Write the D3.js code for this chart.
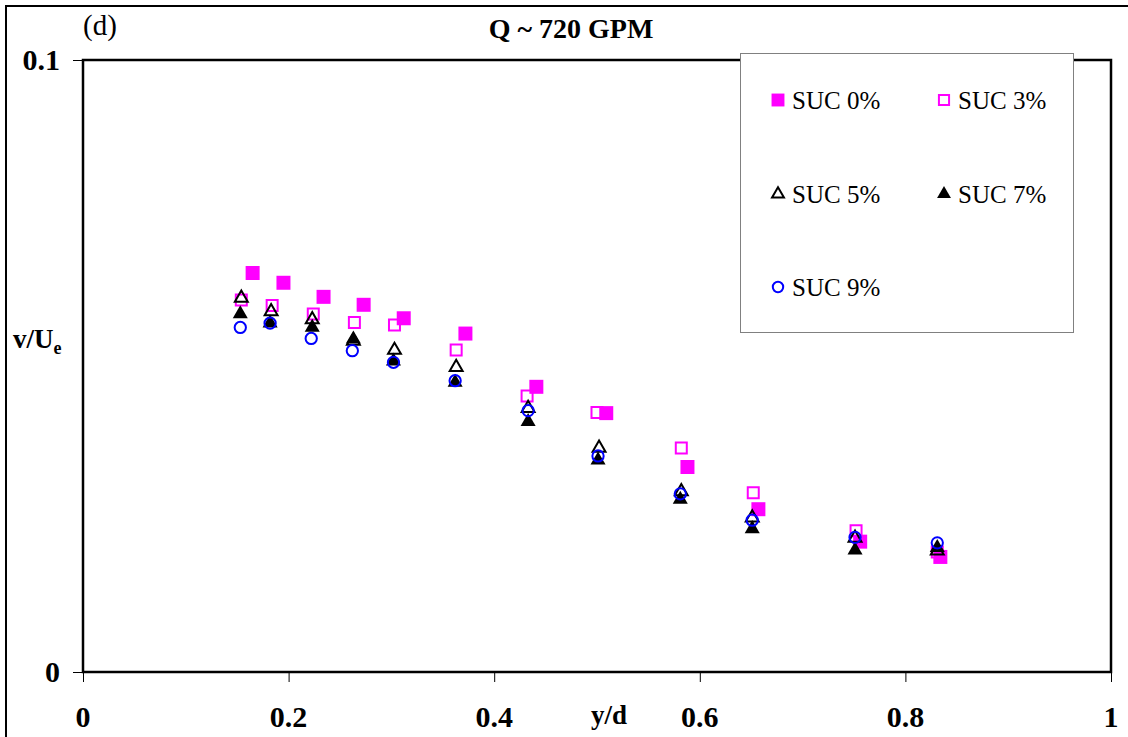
<!DOCTYPE html>
<html>
<head>
<meta charset="utf-8">
<script src="https://cdn.jsdelivr.net/npm/d3@7"></script>
<style>
  html, body { margin: 0; padding: 0; background: #fff; }
  svg { display: block; }
  text { font-family: "Liberation Serif", "Times New Roman", serif; }
</style>
</head>
<body>
<svg id="chart" width="1128" height="737"></svg>
<script>
// ---- data ----
const title = "Q ~ 720 GPM";
const panelLabel = "(d)";
const xTicks = [0, 0.2, 0.4, 0.6, 0.8, 1];
const xTickLabels = ["0", "0.2", "0.4", "0.6", "0.8", "1"];
const yTicks = [0, 0.1];
const yTickLabels = ["0", "0.1"];
const seriesNames = ["SUC 0%", "SUC 3%", "SUC 5%", "SUC 7%", "SUC 9%"];

const x0 = [0.165, 0.195, 0.234, 0.273, 0.312, 0.372, 0.441, 0.509, 0.588, 0.657, 0.756, 0.834];
const y0 = [0.0652, 0.0636, 0.0613, 0.0600, 0.0578, 0.0553, 0.0466, 0.0423, 0.0335, 0.0266, 0.0213, 0.0188];

const x3 = [0.154, 0.184, 0.224, 0.264, 0.303, 0.363, 0.432, 0.500, 0.582, 0.652, 0.752, 0.831];
const y3 = [0.0608, 0.0599, 0.0585, 0.0571, 0.0567, 0.0526, 0.0451, 0.0424, 0.0366, 0.0293, 0.0231, 0.0196];

const x5 = [0.154, 0.183, 0.223, 0.263, 0.303, 0.363, 0.433, 0.502, 0.582, 0.651, 0.751, 0.831];
const y5 = [0.0611, 0.0589, 0.0576, 0.0541, 0.0526, 0.0498, 0.0431, 0.0366, 0.0295, 0.0252, 0.0219, 0.0198];

const x7 = [0.153, 0.182, 0.223, 0.263, 0.302, 0.362, 0.433, 0.501, 0.581, 0.651, 0.751, 0.831];
const y7 = [0.0585, 0.0570, 0.0563, 0.0544, 0.0508, 0.0473, 0.0409, 0.0346, 0.0282, 0.0234, 0.0199, 0.0203];

const x9 = [0.153, 0.182, 0.222, 0.262, 0.302, 0.362, 0.433, 0.501, 0.581, 0.651, 0.751, 0.831];
const y9 = [0.0563, 0.0570, 0.0545, 0.0525, 0.0506, 0.0476, 0.0427, 0.0353, 0.0291, 0.0248, 0.0220, 0.0211];

// ---- layout ----
const svg = d3.select("#chart");
const pLeft = 83, pRight = 1111, pTop = 60, pBottom = 672;
const x = d3.scaleLinear().domain([0, 1]).range([pLeft, pRight]);
const y = d3.scaleLinear().domain([0, 0.1]).range([pBottom, pTop]);

const MAG = "#ff00ff", BLUE = "#0000ff", BLACK = "#000000";
const styles = [
  { type: d3.symbolSquare,   size: 196, fill: MAG,    stroke: "none", sw: 0 },
  { type: d3.symbolSquare,   size: 121, fill: "none", stroke: MAG,    sw: 2 },
  { type: d3.symbolTriangle, size: 72,  fill: "none", stroke: BLACK,  sw: 2 },
  { type: d3.symbolTriangle, size: 98,  fill: BLACK,  stroke: "none", sw: 0 },
  { type: d3.symbolCircle,   size: 100, fill: "none", stroke: BLUE,   sw: 2 }
];
const series = [
  { xs: x0, ys: y0 }, { xs: x3, ys: y3 }, { xs: x5, ys: y5 }, { xs: x7, ys: y7 }, { xs: x9, ys: y9 }
];

// outer chart frame (extends beyond the visible area on right/bottom)
svg.append("rect").attr("x", 6).attr("y", 6).attr("width", 1200).attr("height", 800)
  .attr("fill", "none").attr("stroke", "#000").attr("stroke-width", 2);

// plot area border
svg.append("rect").attr("x", pLeft).attr("y", pTop).attr("width", pRight - pLeft).attr("height", pBottom - pTop)
  .attr("fill", "none").attr("stroke", "#000").attr("stroke-width", 2.5);

// axes ticks via d3 axes
const xAxis = d3.axisBottom(x).tickValues(xTicks).tickSize(10).tickFormat("");
const yAxis = d3.axisLeft(y).tickValues(yTicks).tickSize(10).tickFormat("");
const gx = svg.append("g").attr("transform", `translate(0,${pBottom})`).call(xAxis);
const gy = svg.append("g").attr("transform", `translate(${pLeft},0)`).call(yAxis);
[gx, gy].forEach(g => { g.select(".domain").remove(); g.selectAll("line").attr("stroke", "#000").attr("stroke-width", 1); });

// tick labels
svg.append("g").selectAll("text").data(xTicks).join("text")
  .attr("x", d => x(d)).attr("y", 727).attr("text-anchor", "middle")
  .attr("font-size", 30).attr("font-weight", "bold").text((d, i) => xTickLabels[i]);
svg.append("g").selectAll("text").data(yTicks).join("text")
  .attr("x", 60).attr("y", d => y(d) + 10).attr("text-anchor", "end")
  .attr("font-size", 30).attr("font-weight", "bold").text((d, i) => yTickLabels[i]);

// axis titles
svg.append("text").attr("x", 609).attr("y", 724).attr("text-anchor", "middle")
  .attr("font-size", 27).attr("font-weight", "bold").text("y/d");
const yl = svg.append("text").attr("x", 13).attr("y", 348)
  .attr("font-size", 27).attr("font-weight", "bold");
yl.append("tspan").text("v/U");
yl.append("tspan").attr("dy", 6).attr("font-size", 18).text("e");

// title + panel label
svg.append("text").attr("x", 571).attr("y", 38).attr("text-anchor", "middle")
  .attr("font-size", 28).attr("font-weight", "bold").text(title);
svg.append("text").attr("x", 83).attr("y", 35).attr("font-size", 29).text(panelLabel);

// data markers
series.forEach((s, i) => {
  const st = styles[i];
  const sym = d3.symbol().type(st.type).size(st.size);
  svg.append("g").selectAll("path").data(s.xs.map((v, j) => [v, s.ys[j]])).join("path")
    .attr("transform", d => `translate(${x(d[0])},${y(d[1])})`)
    .attr("d", sym)
    .attr("fill", st.fill).attr("stroke", st.stroke).attr("stroke-width", st.sw);
});

// legend
const lg = svg.append("g");
lg.append("rect").attr("x", 740.5).attr("y", 53.5).attr("width", 333).attr("height", 279)
  .attr("fill", "#fff").attr("stroke", "#808080").attr("stroke-width", 1);
const legPos = [[778, 100], [944, 100], [778, 194], [944, 194], [778, 287]];
seriesNames.forEach((name, i) => {
  const st = styles[i];
  const sym = d3.symbol().type(st.type).size(st.size * 0.85);
  const [lx, ly] = legPos[i];
  lg.append("path").attr("transform", `translate(${lx},${ly})`).attr("d", sym)
    .attr("fill", st.fill).attr("stroke", st.stroke).attr("stroke-width", st.sw);
  lg.append("text").attr("x", lx + 14).attr("y", ly + 9).attr("font-size", 25).text(name);
});
</script>
</body>
</html>
